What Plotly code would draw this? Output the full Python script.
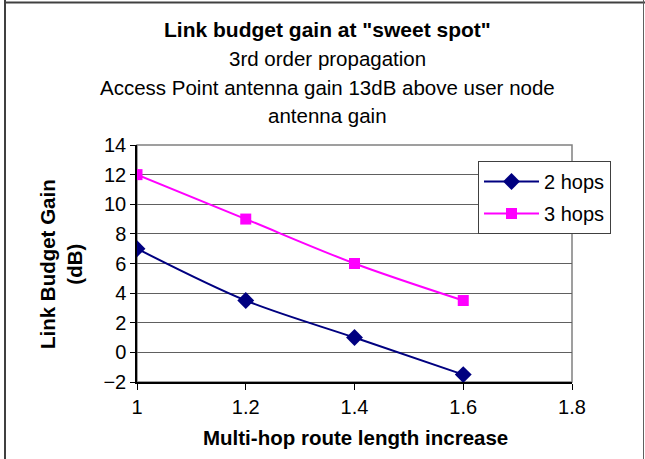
import plotly.graph_objects as go

x_vals = [1.0, 1.2, 1.4, 1.6]
hops2 = [7.0, 3.5, 1.0, -1.5]
hops3 = [12.0, 9.0, 6.0, 3.5]
series_names = ["2 hops", "3 hops"]
title_lines = ['Link budget gain at "sweet spot"', "3rd order propagation",
               "Access Point antenna gain 13dB above user node", "antenna gain"]
x_title = "Multi-hop route length increase"
y_title = "Link Budget Gain<br>(dB)"

FONT = "Liberation Sans, Arial, sans-serif"
W, H = 645, 459
L, R, T, B = 137, 73, 145, 77
pw, ph = W - L - R, H - T - B

def px(xp):
    return (xp - L) / pw

def py(yp):
    return (H - B - yp) / ph

fig = go.Figure()
fig.add_trace(go.Scatter(x=x_vals, y=hops2, name=series_names[0], mode="lines+markers",
                         legendgroup="a",
                         line=dict(color="#000080", width=2, shape="spline", smoothing=0.9),
                         marker=dict(symbol="diamond", size=13, color="#000080")))
fig.add_trace(go.Scatter(x=x_vals, y=hops3, name=series_names[1], mode="lines+markers",
                         legendgroup="b",
                         line=dict(color="#FF00FF", width=2, shape="spline", smoothing=0.9),
                         marker=dict(symbol="square", size=11, color="#FF00FF")))

annotations = []
title_y = [30, 58, 87, 116]
for i, (txt, yy) in enumerate(zip(title_lines, title_y)):
    annotations.append(dict(text=("<b>%s</b>" % txt) if i == 0 else txt,
                            x=px(327), y=py(yy), xref="paper", yref="paper",
                            xanchor="center", yanchor="middle", showarrow=False,
                            font=dict(family=FONT, size=21 if i == 0 else 20.5, color="black")))
annotations.append(dict(text="<b>%s</b>" % x_title, x=px(355), y=py(437), xref="paper", yref="paper",
                        xanchor="center", yanchor="middle", showarrow=False,
                        font=dict(family=FONT, size=20.5, color="black")))
annotations.append(dict(text="<b>%s</b>" % y_title, x=px(61), y=py(264), xref="paper", yref="paper",
                        xanchor="center", yanchor="middle", showarrow=False, textangle=-90,
                        font=dict(family=FONT, size=20.5, color="black")))

shapes = [
    dict(type="line", xref="paper", yref="paper", x0=px(5), x1=px(5), y0=py(0), y1=py(H),
         line=dict(color="#404040", width=2)),
    dict(type="line", xref="paper", yref="paper", x0=px(5), x1=px(W), y0=py(2.5), y1=py(2.5),
         line=dict(color="#404040", width=2)),
    dict(type="line", xref="paper", yref="paper", x0=px(643.5), x1=px(643.5), y0=py(0), y1=py(H),
         line=dict(color="#606060", width=1)),
    dict(type="rect", xref="paper", yref="paper", x0=0, x1=1, y0=0, y1=1,
         line=dict(color="#808080", width=1.5), layer="below"),
]

fig.update_layout(
    width=W, height=H,
    margin=dict(l=L, r=R, t=T, b=B),
    paper_bgcolor="white", plot_bgcolor="white",
    font=dict(family=FONT, size=20, color="black"),
    showlegend=True,
    legend=dict(x=px(478), y=py(161), xanchor="left", yanchor="top",
                bgcolor="white", bordercolor="#404040", borderwidth=1,
                font=dict(family=FONT, size=20, color="black"),
                traceorder="grouped", tracegroupgap=3, itemwidth=55),
    annotations=annotations,
    shapes=shapes,
    xaxis=dict(range=[1, 1.8], tickvals=[1, 1.2, 1.4, 1.6, 1.8], ticktext=["1", "1.2", "1.4", "1.6", "1.8"],
               showgrid=False, zeroline=False, showline=True, linecolor="black", linewidth=1.5,
               ticks="outside", ticklen=6, tickcolor="black", tickfont=dict(size=20)),
    yaxis=dict(range=[-2, 14], dtick=2, showgrid=True, gridcolor="#606060", gridwidth=1,
               zeroline=False, showline=True, linecolor="black", linewidth=1.5,
               ticks="outside", ticklen=5, tickcolor="black", tickfont=dict(size=20)),
)
fig.write_html("out.html", config={"displayModeBar": False},
               post_script="document.body.style.margin='0';document.body.style.overflow='hidden';")
